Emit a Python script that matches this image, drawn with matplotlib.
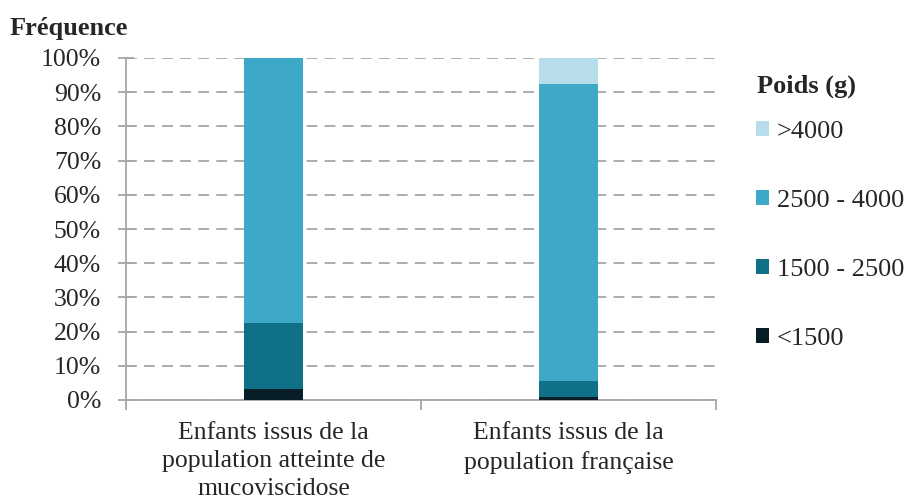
import numpy as np
import matplotlib.pyplot as plt
from matplotlib.patches import Patch

plt.rcParams['font.family'] = ['Liberation Serif', 'DejaVu Serif']

categories = ['Enfants issus de la\npopulation atteinte de\nmucoviscidose',
              'Enfants issus de la\npopulation française']
series = ['<1500', '1500 - 2500', '2500 - 4000', '>4000']
values = {
    '<1500':       [0.032, 0.009],
    '1500 - 2500': [0.194, 0.046],
    '2500 - 4000': [0.774, 0.870],
    '>4000':       [0.000, 0.075],
}
colors = {
    '<1500': '#071e26',
    '1500 - 2500': '#107088',
    '2500 - 4000': '#3ea9c6',
    '>4000': '#b6dde9',
}
yticks = np.arange(0, 1.01, 0.1)

fig = plt.figure(figsize=(9.09, 5.03), dpi=100)
ax = fig.add_axes([126 / 909, 103 / 503, 590 / 909, 342 / 503])

x = np.arange(len(categories))
bottom = np.zeros(len(categories))
for s in series:
    ax.bar(x, values[s], 0.197, bottom=bottom, color=colors[s],
           edgecolor='none', zorder=3)
    bottom += np.array(values[s])

ax.set_xlim(-0.5, 1.5)
ax.set_ylim(0, 1)
ax.set_yticks(yticks)
ax.set_yticklabels([f'{int(round(v * 100))}%' for v in yticks], fontsize=18.5)
ax.set_xticks(x)
ax.set_xticklabels(categories, fontsize=18.5, linespacing=1.36)
ax.set_xticks([-0.5, 0.5, 1.5], minor=True)
ax.tick_params(axis='x', which='major', length=0, pad=16, colors='#262626')
ax.tick_params(axis='x', which='minor', length=7, width=1.3, color='#a6a6a6',
               direction='out')
ax.tick_params(axis='y', length=12, width=1.3, color='#a6a6a6',
               direction='inout', pad=12, labelcolor='#262626')

ax.yaxis.grid(True, linestyle=(0, (6, 4)), color='#a6a6a6', linewidth=1.3,
              zorder=0)
for sp in ['top', 'right']:
    ax.spines[sp].set_visible(False)
for sp in ['left', 'bottom']:
    ax.spines[sp].set_color('#a6a6a6')
    ax.spines[sp].set_linewidth(1.3)

fig.text(10 / 909, 1 - 29 / 503, 'Fréquence', fontsize=19, fontweight='bold',
         va='center', ha='left', color='#262626')
fig.text(757 / 909, 1 - 86 / 503, 'Poids (g)', fontsize=19, fontweight='bold',
         va='center', ha='left', color='#262626')

handles = [Patch(facecolor=colors[s], edgecolor='none') for s in reversed(series)]
leg = fig.legend(handles, list(reversed(series)), loc='upper left',
                 bbox_to_anchor=(756 / 909, 1 - 121 / 503), frameon=False,
                 fontsize=19, handlelength=0.5, handleheight=0.5,
                 handletextpad=0.3, labelspacing=1.78, borderpad=0,
                 borderaxespad=0)
for t in leg.get_texts():
    t.set_color('#262626')

fig.savefig('out.png', dpi=100)
